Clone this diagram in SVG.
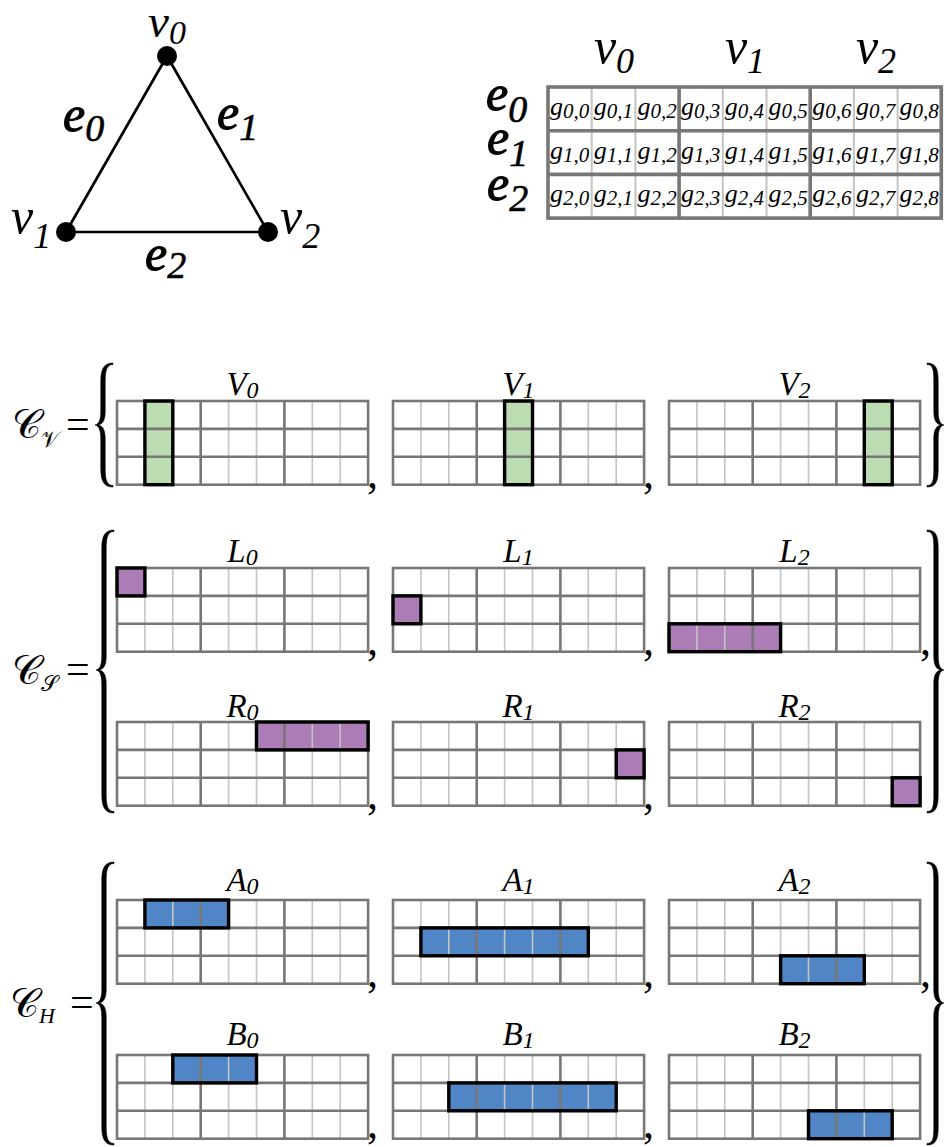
<svg xmlns="http://www.w3.org/2000/svg" xmlns:xlink="http://www.w3.org/1999/xlink" width="946" height="1147" viewBox="0 0 946 1147">
<defs>
<style>
text{font-family:"Liberation Serif","Times New Roman",serif;font-style:italic;fill:#000}
.big{font-size:50px}
.eb{font-size:50px;stroke:#000;stroke-width:1.1}
.sub{font-size:36px}
.esub{font-size:38px;stroke-width:0.6}
.tn{stroke:#c4c4c4;stroke-width:1.6;fill:none}
.tk{stroke:#777;stroke-width:2.6;fill:none}
.ob{fill:none;stroke:#777;stroke-width:2.6}
.hl{fill:none;stroke:#000;stroke-width:3.4}
.gr{fill:#bcdcb1}
.pu{fill:#ab7cb6}
.bl{fill:#5086c6}
.lab{font-size:33px}
.ls{font-size:24px}
.cm{font-style:normal;font-size:44px}
.br{fill:#000;stroke:#000;stroke-width:0.6;stroke-linejoin:round}
.mt{stroke:#c4c4c4;stroke-width:2;fill:none}
.mk{stroke:#777;stroke-width:3.6;fill:none}
.g{font-size:26px}
.gs{font-size:21px}
.scr{font-family:"DejaVu Serif","DejaVu Sans","Noto Sans",serif;font-style:normal;font-size:40px}
.scs{font-size:22px}
.eq{font-style:normal;font-size:42px}
.edge{stroke:#000;stroke-width:2.7;fill:none}
</style>
<g id="grid">
 <path class="tn" d="M27.9 0V83.7M55.8 0V83.7M111.6 0V83.7M139.5 0V83.7M195.3 0V83.7M223.2 0V83.7"/>
 <path class="tk" d="M83.7 0V83.7M167.4 0V83.7M0 27.9H251.1M0 55.8H251.1"/>
 <rect class="ob" x="0" y="0" width="251.1" height="83.7"/>
</g>
</defs>
<rect width="946" height="1147" fill="#fff"/>

<!-- triangle graph -->
<g id="connectors">
 <path class="edge" d="M167 56L66 232M167 56L268 232M66 232H268"/>
 <text class="eb" x="63" y="131">e<tspan class="esub" dy="10">0</tspan></text>
 <text class="eb" x="217" y="129">e<tspan class="esub" dy="11">1</tspan></text>
 <text class="eb" x="145" y="270">e<tspan class="esub" dy="8">2</tspan></text>
</g>
<g id="v0"><circle cx="167" cy="56" r="10"/><text x="148" y="37" style="font-size:47px">v<tspan class="sub" style="font-size:34px" dy="7">0</tspan></text></g>
<g id="v1"><circle cx="66" cy="232" r="10"/><text class="big" x="11" y="233">v<tspan class="sub" dy="15">1</tspan></text></g>
<g id="v2"><circle cx="268" cy="232" r="10"/><text class="big" x="280" y="233">v<tspan class="sub" dy="15">2</tspan></text></g>

<!-- matrix -->
<g id="matrix">
 <text class="big" x="614" y="63" text-anchor="middle">v<tspan class="sub" dy="10">0</tspan></text>
 <text class="big" x="745" y="63" text-anchor="middle">v<tspan class="sub" dy="10">1</tspan></text>
 <text class="big" x="876" y="63" text-anchor="middle">v<tspan class="sub" dy="10">2</tspan></text>
 <text class="eb" x="486" y="110">e<tspan class="esub" dy="12">0</tspan></text>
 <text class="eb" x="487" y="154">e<tspan class="esub" dy="12">1</tspan></text>
 <text class="eb" x="487" y="200">e<tspan class="esub" dy="11">2</tspan></text>
 <rect x="548" y="87" width="393.3" height="131.1" fill="#fff"/>
 <path class="mt" d="M591.7 87V218.1M635.4 87V218.1M722.8 87V218.1M766.5 87V218.1M853.9 87V218.1M897.6 87V218.1"/>
 <path class="mk" d="M679.1 87V218.1M810.2 87V218.1M548 130.7H941.3M548 174.4H941.3"/>
 <rect class="mk" x="548" y="87" width="393.3" height="131.1"/>
 <g class="g">
  <text x="550" y="115">g<tspan class="gs" dy="3">0,0</tspan></text>
  <text x="593.7" y="115">g<tspan class="gs" dy="3">0,1</tspan></text>
  <text x="637.4" y="115">g<tspan class="gs" dy="3">0,2</tspan></text>
  <text x="681.1" y="115">g<tspan class="gs" dy="3">0,3</tspan></text>
  <text x="724.8" y="115">g<tspan class="gs" dy="3">0,4</tspan></text>
  <text x="768.5" y="115">g<tspan class="gs" dy="3">0,5</tspan></text>
  <text x="812.2" y="115">g<tspan class="gs" dy="3">0,6</tspan></text>
  <text x="855.9" y="115">g<tspan class="gs" dy="3">0,7</tspan></text>
  <text x="899.6" y="115">g<tspan class="gs" dy="3">0,8</tspan></text>
  <text x="550" y="158.7">g<tspan class="gs" dy="3">1,0</tspan></text>
  <text x="593.7" y="158.7">g<tspan class="gs" dy="3">1,1</tspan></text>
  <text x="637.4" y="158.7">g<tspan class="gs" dy="3">1,2</tspan></text>
  <text x="681.1" y="158.7">g<tspan class="gs" dy="3">1,3</tspan></text>
  <text x="724.8" y="158.7">g<tspan class="gs" dy="3">1,4</tspan></text>
  <text x="768.5" y="158.7">g<tspan class="gs" dy="3">1,5</tspan></text>
  <text x="812.2" y="158.7">g<tspan class="gs" dy="3">1,6</tspan></text>
  <text x="855.9" y="158.7">g<tspan class="gs" dy="3">1,7</tspan></text>
  <text x="899.6" y="158.7">g<tspan class="gs" dy="3">1,8</tspan></text>
  <text x="550" y="202.4">g<tspan class="gs" dy="3">2,0</tspan></text>
  <text x="593.7" y="202.4">g<tspan class="gs" dy="3">2,1</tspan></text>
  <text x="637.4" y="202.4">g<tspan class="gs" dy="3">2,2</tspan></text>
  <text x="681.1" y="202.4">g<tspan class="gs" dy="3">2,3</tspan></text>
  <text x="724.8" y="202.4">g<tspan class="gs" dy="3">2,4</tspan></text>
  <text x="768.5" y="202.4">g<tspan class="gs" dy="3">2,5</tspan></text>
  <text x="812.2" y="202.4">g<tspan class="gs" dy="3">2,6</tspan></text>
  <text x="855.9" y="202.4">g<tspan class="gs" dy="3">2,7</tspan></text>
  <text x="899.6" y="202.4">g<tspan class="gs" dy="3">2,8</tspan></text>
 </g>
</g>

<!-- set labels, braces, commas -->
<g id="setlabels">
 <text class="scr" x="12" y="438">𝒞<tspan class="scs" dy="9">𝒱</tspan></text>
 <text class="eq" x="66" y="438">=</text>
 <text class="scr" x="12" y="684">𝒞<tspan class="scs" dy="7">𝒮</tspan></text>
 <text class="eq" x="66" y="683">=</text>
 <text class="scr" x="10" y="1017">𝒞<tspan class="scs" dy="6" style="font-family:'Liberation Serif',serif;font-style:italic">H</tspan></text>
 <text class="eq" x="70" y="1016">=</text>
 <path class="br" d="M113,363 C104,363 100.8,369 100.8,381 L100.8,411 C100.8,420 99,424 95,425 C99,426 100.8,430 100.8,439 L100.8,469 C100.8,481 104,487 113,487 L113,485.5 C107,485.5 105.2,480 105.2,469 L105.2,439 C105.2,430 103,426 98,425 C103,424 105.2,420 105.2,411 L105.2,381 C105.2,370 107,364.5 113,364.5Z"/>
 <path class="br" d="M114,530 C105,530 101.8,536 101.8,548 L101.8,656 C101.8,665 100,669 96,670 C100,671 101.8,675 101.8,684 L101.8,795 C101.8,807 105,813 114,813 L114,811.5 C108,811.5 106.2,806 106.2,795 L106.2,684 C106.2,675 104,671 99,670 C104,669 106.2,665 106.2,656 L106.2,548 C106.2,537 108,531.5 114,531.5Z"/>
 <path class="br" d="M114,862 C105,862 101.8,868 101.8,880 L101.8,989 C101.8,998 100,1002 96,1003 C100,1004 101.8,1008 101.8,1017 L101.8,1127 C101.8,1139 105,1145 114,1145 L114,1143.5 C108,1143.5 106.2,1138 106.2,1127 L106.2,1017 C106.2,1008 104,1004 99,1003 C104,1002 106.2,998 106.2,989 L106.2,880 C106.2,869 108,863.5 114,863.5Z"/>
 <path class="br" d="M927,363 C936,363 938.2,369 938.2,381 L938.2,411 C938.2,420 940,424 944,425 C940,426 938.2,430 938.2,439 L938.2,469 C938.2,481 936,487 927,487 L927,485.5 C933,485.5 933.8,480 933.8,469 L933.8,439 C933.8,430 936,426 941,425 C936,424 933.8,420 933.8,411 L933.8,381 C933.8,370 933,364.5 927,364.5Z"/>
 <path class="br" d="M927,530 C936,530 938.2,536 938.2,548 L938.2,656 C938.2,665 940,669 944,670 C940,671 938.2,675 938.2,684 L938.2,795 C938.2,807 936,813 927,813 L927,811.5 C933,811.5 933.8,806 933.8,795 L933.8,684 C933.8,675 936,671 941,670 C936,669 933.8,665 933.8,656 L933.8,548 C933.8,537 933,531.5 927,531.5Z"/>
 <path class="br" d="M927,862 C936,862 938.2,868 938.2,880 L938.2,989 C938.2,998 940,1002 944,1003 C940,1004 938.2,1008 938.2,1017 L938.2,1127 C938.2,1139 936,1145 927,1145 L927,1143.5 C933,1143.5 933.8,1138 933.8,1127 L933.8,1017 C933.8,1008 936,1004 941,1003 C936,1002 933.8,998 933.8,989 L933.8,880 C933.8,869 933,863.5 927,863.5Z"/>
 <text class="cm" x="367" y="488">,</text>
 <text class="cm" x="643" y="488">,</text>
 <text class="cm" x="367" y="655">,</text>
 <text class="cm" x="643" y="655">,</text>
 <text class="cm" x="920" y="655">,</text>
 <text class="cm" x="367" y="809">,</text>
 <text class="cm" x="643" y="809">,</text>
 <text class="cm" x="367" y="987">,</text>
 <text class="cm" x="643" y="987">,</text>
 <text class="cm" x="920" y="987">,</text>
 <text class="cm" x="367" y="1138">,</text>
 <text class="cm" x="643" y="1138">,</text>
</g>

<!-- C_V sets -->
<g id="V0" transform="translate(117,401)">
 <rect class="gr" x="27.9" y="0" width="27.9" height="83.7"/>
 <use xlink:href="#grid" href="#grid"/>
 <rect class="hl" x="27.9" y="0" width="27.9" height="83.7"/>
 <text class="lab" x="125.5" y="-6" text-anchor="middle">V<tspan class="ls" dy="3">0</tspan></text>
</g>
<g id="V1" transform="translate(393,401)">
 <rect class="gr" x="111.6" y="0" width="27.9" height="83.7"/>
 <use xlink:href="#grid" href="#grid"/>
 <rect class="hl" x="111.6" y="0" width="27.9" height="83.7"/>
 <text class="lab" x="125.5" y="-6" text-anchor="middle">V<tspan class="ls" dy="3">1</tspan></text>
</g>
<g id="V2" transform="translate(669,401)">
 <rect class="gr" x="195.3" y="0" width="27.9" height="83.7"/>
 <use xlink:href="#grid" href="#grid"/>
 <rect class="hl" x="195.3" y="0" width="27.9" height="83.7"/>
 <text class="lab" x="125.5" y="-6" text-anchor="middle">V<tspan class="ls" dy="3">2</tspan></text>
</g>

<!-- C_S sets -->
<g id="L0" transform="translate(117,568)">
 <rect class="pu" x="0" y="0" width="27.9" height="27.9"/>
 <use xlink:href="#grid" href="#grid"/>
 <rect class="hl" x="0" y="0" width="27.9" height="27.9"/>
 <text class="lab" x="125.5" y="-6" text-anchor="middle">L<tspan class="ls" dy="3">0</tspan></text>
</g>
<g id="L1" transform="translate(393,568)">
 <rect class="pu" x="0" y="27.9" width="27.9" height="27.9"/>
 <use xlink:href="#grid" href="#grid"/>
 <rect class="hl" x="0" y="27.9" width="27.9" height="27.9"/>
 <text class="lab" x="125.5" y="-6" text-anchor="middle">L<tspan class="ls" dy="3">1</tspan></text>
</g>
<g id="L2" transform="translate(669,568)">
 <rect class="pu" x="0" y="55.8" width="111.6" height="27.9"/>
 <use xlink:href="#grid" href="#grid"/>
 <rect class="hl" x="0" y="55.8" width="111.6" height="27.9"/>
 <text class="lab" x="125.5" y="-6" text-anchor="middle">L<tspan class="ls" dy="3">2</tspan></text>
</g>
<g id="R0" transform="translate(117,722)">
 <rect class="pu" x="139.5" y="0" width="111.6" height="27.9"/>
 <use xlink:href="#grid" href="#grid"/>
 <rect class="hl" x="139.5" y="0" width="111.6" height="27.9"/>
 <text class="lab" x="125.5" y="-5" text-anchor="middle">R<tspan class="ls" dy="3">0</tspan></text>
</g>
<g id="R1" transform="translate(393,722)">
 <rect class="pu" x="223.2" y="27.9" width="27.9" height="27.9"/>
 <use xlink:href="#grid" href="#grid"/>
 <rect class="hl" x="223.2" y="27.9" width="27.9" height="27.9"/>
 <text class="lab" x="125.5" y="-5" text-anchor="middle">R<tspan class="ls" dy="3">1</tspan></text>
</g>
<g id="R2" transform="translate(669,722)">
 <rect class="pu" x="223.2" y="55.8" width="27.9" height="27.9"/>
 <use xlink:href="#grid" href="#grid"/>
 <rect class="hl" x="223.2" y="55.8" width="27.9" height="27.9"/>
 <text class="lab" x="125.5" y="-5" text-anchor="middle">R<tspan class="ls" dy="3">2</tspan></text>
</g>

<!-- C_H sets -->
<g id="A0" transform="translate(117,900)">
 <rect class="bl" x="27.9" y="0" width="83.7" height="27.9"/>
 <use xlink:href="#grid" href="#grid"/>
 <rect class="hl" x="27.9" y="0" width="83.7" height="27.9"/>
 <text class="lab" x="125.5" y="-9" text-anchor="middle">A<tspan class="ls" dy="3">0</tspan></text>
</g>
<g id="A1" transform="translate(393,900)">
 <rect class="bl" x="27.9" y="27.9" width="167.4" height="27.9"/>
 <use xlink:href="#grid" href="#grid"/>
 <rect class="hl" x="27.9" y="27.9" width="167.4" height="27.9"/>
 <text class="lab" x="125.5" y="-9" text-anchor="middle">A<tspan class="ls" dy="3">1</tspan></text>
</g>
<g id="A2" transform="translate(669,900)">
 <rect class="bl" x="111.6" y="55.8" width="83.7" height="27.9"/>
 <use xlink:href="#grid" href="#grid"/>
 <rect class="hl" x="111.6" y="55.8" width="83.7" height="27.9"/>
 <text class="lab" x="125.5" y="-9" text-anchor="middle">A<tspan class="ls" dy="3">2</tspan></text>
</g>
<g id="B0" transform="translate(117,1055)">
 <rect class="bl" x="55.8" y="0" width="83.7" height="27.9"/>
 <use xlink:href="#grid" href="#grid"/>
 <rect class="hl" x="55.8" y="0" width="83.7" height="27.9"/>
 <text class="lab" x="125.5" y="-10" text-anchor="middle">B<tspan class="ls" dy="3">0</tspan></text>
</g>
<g id="B1" transform="translate(393,1055)">
 <rect class="bl" x="55.8" y="27.9" width="167.4" height="27.9"/>
 <use xlink:href="#grid" href="#grid"/>
 <rect class="hl" x="55.8" y="27.9" width="167.4" height="27.9"/>
 <text class="lab" x="125.5" y="-10" text-anchor="middle">B<tspan class="ls" dy="3">1</tspan></text>
</g>
<g id="B2" transform="translate(669,1055)">
 <rect class="bl" x="139.5" y="55.8" width="83.7" height="27.9"/>
 <use xlink:href="#grid" href="#grid"/>
 <rect class="hl" x="139.5" y="55.8" width="83.7" height="27.9"/>
 <text class="lab" x="125.5" y="-10" text-anchor="middle">B<tspan class="ls" dy="3">2</tspan></text>
</g>
</svg>
